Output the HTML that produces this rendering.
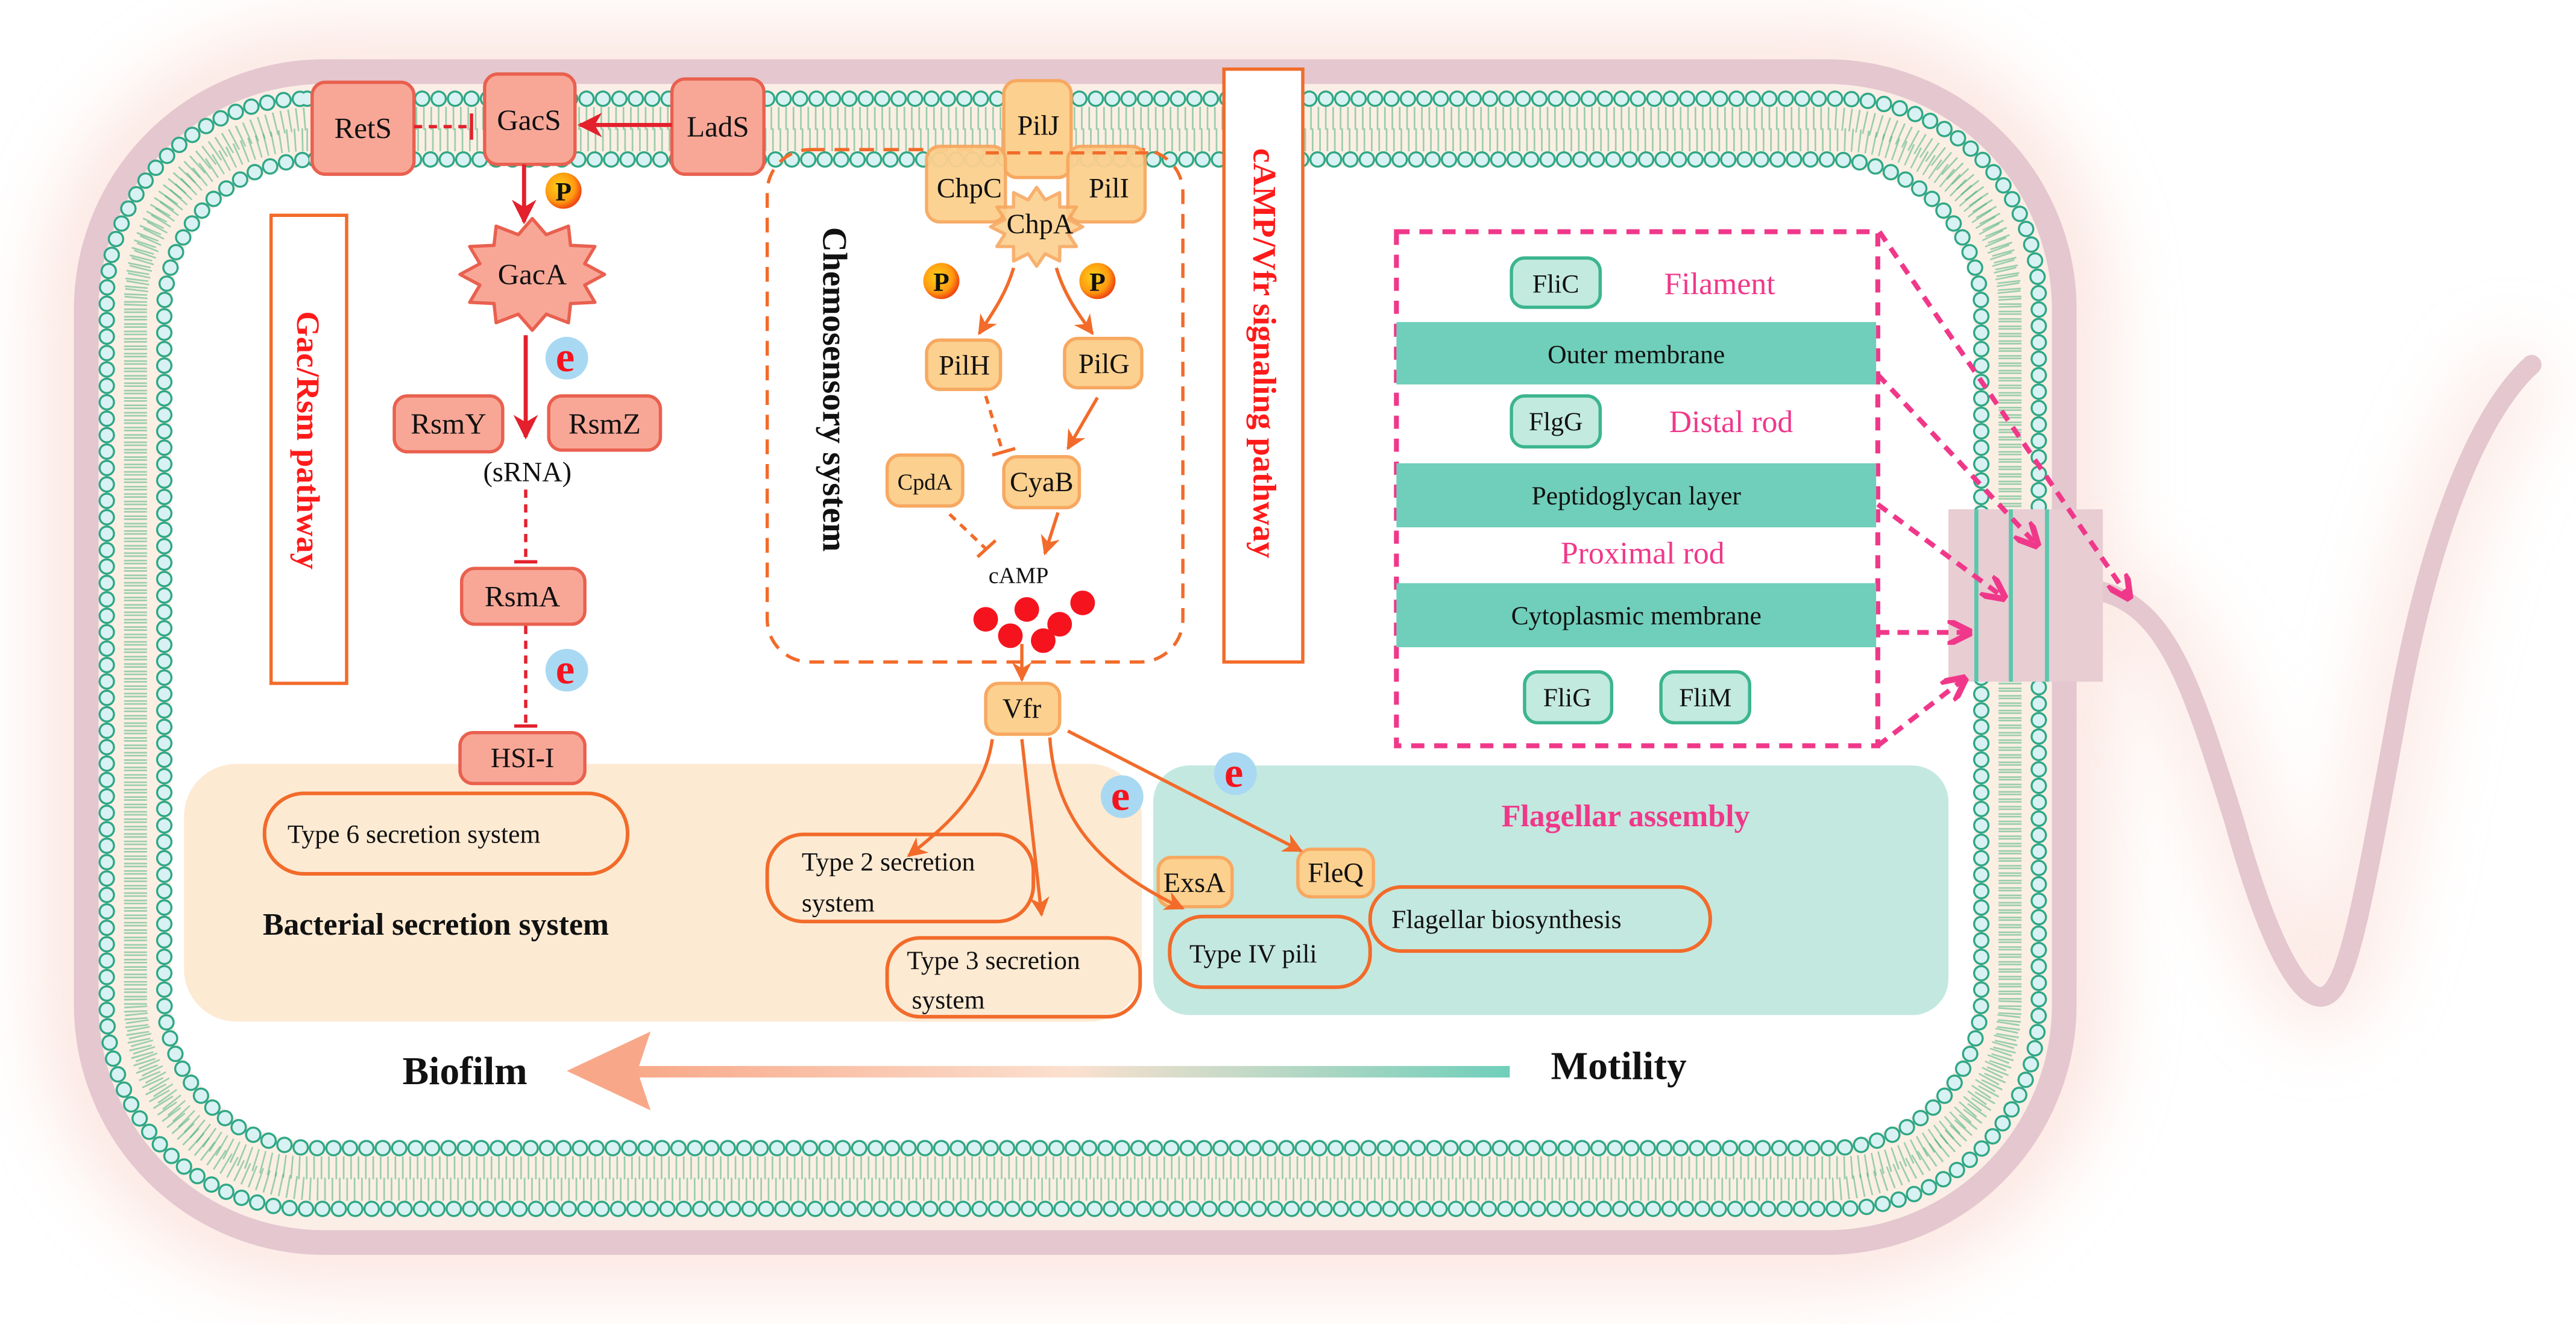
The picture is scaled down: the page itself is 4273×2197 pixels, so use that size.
<!DOCTYPE html>
<html><head><meta charset="utf-8"><style>
html,body{margin:0;padding:0;background:#fff;}
svg{display:block;}
text{font-family:"Liberation Serif",serif;}
</style></head><body>
<svg width="4273" height="2197" viewBox="0 0 1568 806" xmlns="http://www.w3.org/2000/svg">
<defs>
<filter id="blur" x="-20%" y="-20%" width="140%" height="140%"><feGaussianBlur stdDeviation="22"/></filter>
<marker id="ar" viewBox="0 0 10 10" refX="9" refY="5" markerWidth="6" markerHeight="6" orient="auto"><path d="M0,0 L10,5 L0,10 L3,5z" fill="#e3202c"/></marker>
<marker id="ao" viewBox="0 0 10 10" refX="9" refY="5" markerWidth="6" markerHeight="6" orient="auto"><path d="M0,0 L10,5 L0,10 L3,5z" fill="#f26b2a"/></marker>
<marker id="ap" viewBox="0 0 10 10" refX="9" refY="5" markerWidth="5" markerHeight="5" orient="auto"><path d="M0,0 L10,5 L0,10" fill="none" stroke="#f0388a" stroke-width="2.5"/></marker>
<linearGradient id="gr" x1="0" x2="1" y1="0" y2="0"><stop offset="0" stop-color="#f8a888"/><stop offset="0.5" stop-color="#fbe0cf"/><stop offset="1" stop-color="#6fcfba"/></linearGradient>
<radialGradient id="pg" cx="0.4" cy="0.4" r="0.6"><stop offset="0" stop-color="#ffd21a"/><stop offset="0.7" stop-color="#ff9a10"/><stop offset="1" stop-color="#f04a10"/></radialGradient>
</defs>

<rect x="52" y="43" width="1205" height="714" rx="145" fill="none" stroke="#f9d2c8" stroke-width="50" opacity="0.6" filter="url(#blur)"/>
<path d="M1279,360 C1320,370 1335,420 1360,500 C1385,590 1405,612 1416,606 C1430,600 1440,540 1460,430 C1480,320 1510,250 1541,222" fill="none" stroke="#f9d2c8" stroke-width="40" opacity="0.5" filter="url(#blur)"/>

<rect x="52.5" y="43.5" width="1204" height="713" rx="145" fill="#fbeee6" stroke="#e4c7cf" stroke-width="15"/>
<rect x="82.5" y="78.5" width="1141" height="639" rx="108" fill="none" stroke="#fbefe4" stroke-width="36"/>
<rect x="82.5" y="72" width="1141" height="652" rx="112" fill="none" stroke="#3cae73" stroke-width="14" stroke-dasharray="1 3.5" opacity="0.5"/>
<rect x="82.5" y="85" width="1141" height="626" rx="104" fill="none" stroke="#3cae73" stroke-width="14" stroke-dasharray="1 3.5" opacity="0.5"/>
<rect x="104" y="101" width="1098" height="594" rx="88" fill="#fff"/>
<rect x="65" y="60" width="1176" height="676" rx="122" fill="none" stroke="#2fa785" stroke-width="10" stroke-dasharray="0 10" stroke-linecap="round"/>
<rect x="65" y="60" width="1176" height="676" rx="122" fill="none" stroke="#d8f1f2" stroke-width="7.5" stroke-dasharray="0 10" stroke-linecap="round"/>
<rect x="100" y="97" width="1106" height="602" rx="92" fill="none" stroke="#2fa785" stroke-width="10" stroke-dasharray="0 10" stroke-linecap="round"/>
<rect x="100" y="97" width="1106" height="602" rx="92" fill="none" stroke="#d8f1f2" stroke-width="7.5" stroke-dasharray="0 10" stroke-linecap="round"/>

<path d="M1279,360 C1320,370 1335,420 1360,500 C1385,590 1405,612 1416,606 C1430,600 1440,540 1460,430 C1480,320 1510,250 1541,222" fill="none" stroke="#e4c7cf" stroke-width="12" stroke-linecap="round"/>
<rect x="1186" y="310" width="94" height="105" fill="#e8cdd3"/>
<line x1="1203" y1="310" x2="1203" y2="415" stroke="#5cc7ad" stroke-width="2.5"/>
<line x1="1224" y1="310" x2="1224" y2="415" stroke="#5cc7ad" stroke-width="2.5"/>
<line x1="1246" y1="310" x2="1246" y2="415" stroke="#5cc7ad" stroke-width="2.5"/>

<rect x="112" y="465" width="583" height="157" rx="32" fill="#fdead3"/>
<rect x="702" y="466" width="484" height="152" rx="22" fill="#c3e8df"/>

<rect x="165" y="131" width="46" height="285" fill="#fff" stroke="#f26b2a" stroke-width="2"/>
<text transform="translate(181,268) rotate(90)" text-anchor="middle" font-size="20" font-weight="bold" fill="#ff1a1a">Gac/Rsm pathway</text>

<rect x="745" y="42" width="48" height="361" fill="#fff" stroke="#f26b2a" stroke-width="2"/>
<text transform="translate(763,215) rotate(90)" text-anchor="middle" font-size="20" font-weight="bold" fill="#ff1a1a">cAMP/Vfr signaling pathway</text>

<rect x="467" y="91" width="253" height="312" rx="26" fill="none" stroke="#f26b2a" stroke-width="2" stroke-dasharray="9 6"/>
<text transform="translate(501,237) rotate(90)" text-anchor="middle" font-size="21" font-weight="bold" fill="#111">Chemosensory system</text>

<g stroke="#e9604f" stroke-width="2" fill="#f8a797">
<rect x="190" y="50" width="62" height="56" rx="8"/>
<rect x="295" y="45" width="55" height="55" rx="8"/>
<rect x="409" y="48" width="56" height="58" rx="8"/>
<rect x="240" y="241" width="66" height="34" rx="8"/>
<rect x="334" y="241" width="68" height="33" rx="8"/>
<rect x="281" y="346" width="75" height="34" rx="8"/>
<rect x="280" y="446" width="76" height="31" rx="8"/>
<polygon points="368,167 355.9,173.5 362.1,184 347.3,184.7 346,196.4 332.5,191.2 324,201 315.5,191.2 302,196.4 300.7,184.7 285.9,184 292.1,173.5 280,167 292.1,160.5 285.9,150 300.7,149.3 302,137.6 315.5,142.8 324,133 332.5,142.8 346,137.6 347.3,149.3 362.1,150 355.9,160.5" stroke-linejoin="round"/>
</g>
<g font-size="18" fill="#111" text-anchor="middle">
<text x="221" y="84">RetS</text>
<text x="322" y="79">GacS</text>
<text x="437" y="83">LadS</text>
<text x="324" y="173">GacA</text>
<text x="273" y="264">RsmY</text>
<text x="368" y="264">RsmZ</text>
<text x="318" y="369">RsmA</text>
<text x="318" y="467" font-size="17">HSI-I</text>
<text x="321" y="293" font-size="17">(sRNA)</text>
</g>
<line x1="252" y1="77" x2="286" y2="77" stroke="#e3202c" stroke-width="2" stroke-dasharray="5 4"/>
<line x1="287" y1="69" x2="287" y2="85" stroke="#e3202c" stroke-width="2"/>
<line x1="409" y1="76" x2="353" y2="76" stroke="#e3202c" stroke-width="2.5" marker-end="url(#ar)"/>
<line x1="319" y1="100" x2="319" y2="135" stroke="#e3202c" stroke-width="2.5" marker-end="url(#ar)"/>
<line x1="320" y1="204" x2="320" y2="266" stroke="#e3202c" stroke-width="2.5" marker-end="url(#ar)"/>
<line x1="320" y1="298" x2="320" y2="341" stroke="#e3202c" stroke-width="2" stroke-dasharray="5 4"/>
<line x1="313" y1="342" x2="327" y2="342" stroke="#e3202c" stroke-width="2"/>
<line x1="320" y1="381" x2="320" y2="441" stroke="#e3202c" stroke-width="2" stroke-dasharray="5 4"/>
<line x1="313" y1="442" x2="327" y2="442" stroke="#e3202c" stroke-width="2"/>

<g stroke="#f7a860" stroke-width="2" fill="#fcd08e">
<rect x="611" y="49" width="41" height="59" rx="8"/>
<rect x="564" y="89" width="48" height="46" rx="8" opacity="0.95"/>
<rect x="650" y="89" width="47" height="46" rx="8" opacity="0.95"/>
<polygon points="659,138 650.3,142.4 655.2,150 645.1,150 645,158.8 636.2,154.4 631,162 625.8,154.4 617,158.8 616.9,150 606.8,150 611.7,142.4 603,138 611.7,133.6 606.8,126 616.9,126 617,117.2 625.8,121.6 631,114 636.2,121.6 645,117.2 645.1,126 655.2,126 650.3,133.6" stroke-linejoin="round" opacity="0.9"/>
<rect x="564" y="207" width="45" height="30" rx="8"/>
<rect x="648" y="206" width="47" height="30" rx="8"/>
<rect x="540" y="277" width="46" height="31" rx="8"/>
<rect x="611" y="278" width="46" height="31" rx="8"/>
<rect x="600" y="416" width="45" height="31" rx="8"/>
<rect x="705" y="522" width="45" height="30" rx="8"/>
<rect x="790" y="517" width="46" height="29" rx="8"/>
</g>
<line x1="600" y1="93" x2="705" y2="93" stroke="#f26b2a" stroke-width="2" stroke-dasharray="8 5"/>
<g font-size="17" fill="#111" text-anchor="middle">
<text x="632" y="82">PilJ</text>
<text x="590" y="120">ChpC</text>
<text x="675" y="120">PilI</text>
<text x="633" y="142">ChpA</text>
<text x="587" y="228">PilH</text>
<text x="672" y="227">PilG</text>
<text x="563" y="298" font-size="14">CpdA</text>
<text x="634" y="299">CyaB</text>
<text x="620" y="355" font-size="14">cAMP</text>
<text x="622" y="437">Vfr</text>
<text x="727" y="543">ExsA</text>
<text x="813" y="537">FleQ</text>
</g>
<path d="M617,163 C612,180 603,192 596,203" fill="none" stroke="#f26b2a" stroke-width="2" marker-end="url(#ao)"/>
<path d="M643,163 C648,180 657,192 665,203" fill="none" stroke="#f26b2a" stroke-width="2" marker-end="url(#ao)"/>
<line x1="600" y1="241" x2="610" y2="274" stroke="#f26b2a" stroke-width="2" stroke-dasharray="5 4"/>
<line x1="604" y1="277" x2="618" y2="273" stroke="#f26b2a" stroke-width="2"/>
<line x1="668" y1="242" x2="650" y2="273" stroke="#f26b2a" stroke-width="2" marker-end="url(#ao)"/>
<line x1="578" y1="313" x2="600" y2="334" stroke="#f26b2a" stroke-width="2" stroke-dasharray="5 4"/>
<line x1="595" y1="339" x2="606" y2="329" stroke="#f26b2a" stroke-width="2"/>
<line x1="644" y1="312" x2="636" y2="337" stroke="#f26b2a" stroke-width="2" marker-end="url(#ao)"/>
<g fill="#f5141e">
<circle cx="600" cy="377" r="7.5"/><circle cx="625" cy="371" r="7.5"/><circle cx="659" cy="367" r="7.5"/>
<circle cx="645" cy="380" r="7.5"/><circle cx="615" cy="387" r="7.5"/><circle cx="635" cy="390" r="7.5"/>
</g>
<line x1="622" y1="392" x2="622" y2="414" stroke="#f26b2a" stroke-width="2" marker-end="url(#ao)"/>

<g font-size="16" font-weight="bold" text-anchor="middle" fill="#111">
<circle cx="343" cy="116" r="11" fill="url(#pg)"/><text x="343" y="122">P</text>
<circle cx="573" cy="171" r="11" fill="url(#pg)"/><text x="573" y="177">P</text>
<circle cx="668" cy="171" r="11" fill="url(#pg)"/><text x="668" y="177">P</text>
</g>
<g font-size="26" font-weight="bold" text-anchor="middle" fill="#f5141e">
<circle cx="345" cy="218" r="13" fill="#a9d9f2"/><text x="344" y="226">e</text>
<circle cx="345" cy="408" r="13" fill="#a9d9f2"/><text x="344" y="416">e</text>
<circle cx="683" cy="485" r="13" fill="#a9d9f2"/><text x="682" y="493">e</text>
<circle cx="752" cy="471" r="13" fill="#a9d9f2"/><text x="751" y="479">e</text>
</g>

<path d="M604,450 C600,480 580,500 553,521" fill="none" stroke="#f26b2a" stroke-width="2" marker-end="url(#ao)"/>
<path d="M622,450 L634,557" fill="none" stroke="#f26b2a" stroke-width="2" marker-end="url(#ao)"/>
<path d="M639,449 C642,490 660,525 720,553" fill="none" stroke="#f26b2a" stroke-width="2" marker-end="url(#ao)"/>
<line x1="650" y1="445" x2="792" y2="518" stroke="#f26b2a" stroke-width="2" marker-end="url(#ao)"/>

<g fill="none" stroke="#f26b2a" stroke-width="2.2">
<rect x="161" y="483" width="221" height="49" rx="24"/>
<rect x="467" y="508" width="162" height="53" rx="22"/>
<rect x="540" y="571" width="154" height="48" rx="20"/>
<rect x="712" y="558" width="122" height="43" rx="20"/>
<rect x="834" y="540" width="207" height="39" rx="19"/>
</g>
<g font-size="16" fill="#111">
<text x="175" y="513">Type 6 secretion system</text>
<text x="488" y="530">Type 2 secretion</text>
<text x="488" y="555">system</text>
<text x="552" y="590">Type 3 secretion</text>
<text x="555" y="614">system</text>
<text x="724" y="586">Type IV pili</text>
<text x="847" y="565">Flagellar biosynthesis</text>
</g>
<text x="160" y="569" font-size="19" font-weight="bold" fill="#111">Bacterial secretion system</text>
<text x="914" y="503" font-size="19" font-weight="bold" fill="#f0388a">Flagellar assembly</text>

<rect x="385" y="649" width="534" height="7" fill="url(#gr)"/>
<path d="M345,652 L396,628 L388,652 L396,676z" fill="#f8a888"/>
<text x="245" y="660" font-size="24" font-weight="bold" fill="#111">Biofilm</text>
<text x="944" y="657" font-size="24" font-weight="bold" fill="#111">Motility</text>

<rect x="850" y="141" width="293" height="313" fill="none" stroke="#f0388a" stroke-width="3" stroke-dasharray="8 6"/>
<g fill="#6fcfba">
<rect x="850" y="196" width="292" height="38"/>
<rect x="850" y="282" width="292" height="39"/>
<rect x="850" y="355" width="292" height="39"/>
</g>
<g fill="#c2eadf" stroke="#3cb58e" stroke-width="2">
<rect x="920" y="157" width="54" height="30" rx="8"/>
<rect x="920" y="241" width="54" height="31" rx="8"/>
<rect x="928" y="409" width="53" height="31" rx="8"/>
<rect x="1011" y="409" width="54" height="31" rx="8"/>
</g>
<g font-size="16" fill="#111" text-anchor="middle">
<text x="947" y="178">FliC</text>
<text x="947" y="262">FlgG</text>
<text x="954" y="430">FliG</text>
<text x="1038" y="430">FliM</text>
<text x="996" y="221">Outer membrane</text>
<text x="996" y="307">Peptidoglycan layer</text>
<text x="996" y="380">Cytoplasmic membrane</text>
</g>
<g font-size="19" fill="#f0388a">
<text x="1013" y="179">Filament</text>
<text x="1016" y="263">Distal rod</text>
<text x="950" y="343">Proximal rod</text>
</g>
<g stroke="#f0388a" stroke-width="3" stroke-dasharray="7 5" fill="none" marker-end="url(#ap)">
<path d="M1144,141 L1296,364"/>
<path d="M1143,228 L1240,332"/>
<path d="M1143,307 L1220,364"/>
<path d="M1143,385 L1199,385"/>
<path d="M1143,454 L1196,413"/>
</g>
</svg>
</body></html>
